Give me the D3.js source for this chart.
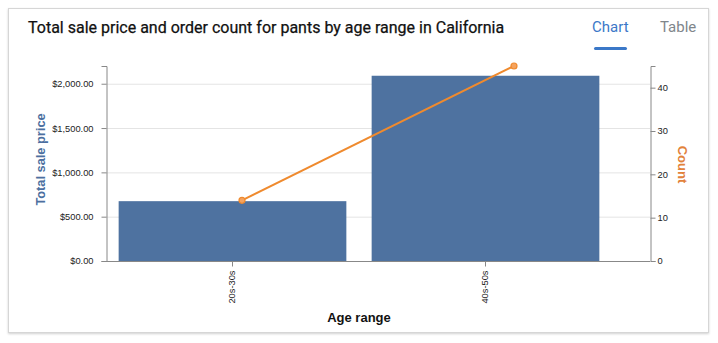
<!DOCTYPE html>
<html><head><meta charset="utf-8">
<script src="https://cdn.jsdelivr.net/npm/d3@7"></script>
<style>
html,body{margin:0;padding:0;background:#fff;}
svg{display:block;font-family:Roboto,"Helvetica Neue",Arial,sans-serif;}
</style></head>
<body>
<svg id="c" width="718" height="343"></svg>
<script>
const categories = ["20s-30s", "40s-50s"];
const salePrice = [675, 2090];
const orderCount = [14, 45];
const priceTicks = [0, 500, 1000, 1500, 2000];
const countTicks = [0, 10, 20, 30, 40];

const svg = d3.select("#c");
const defs = svg.append("defs");
const f = defs.append("filter").attr("id","sh").attr("x","-5%").attr("y","-5%").attr("width","110%").attr("height","110%");
f.append("feDropShadow").attr("dx",0).attr("dy",1).attr("stdDeviation",1.2).attr("flood-color","#000").attr("flood-opacity",0.18);

svg.append("rect").attr("x",8.5).attr("y",8.5).attr("width",700).attr("height",324)
  .attr("fill","#fff").attr("stroke","#d6d6d6").attr("filter","url(#sh)");

svg.append("text").attr("x",28).attr("y",33).attr("font-size",16).attr("fill","#111")
  .attr("stroke","#111").attr("stroke-width",0.25)
  .text("Total sale price and order count for pants by age range in California");
svg.append("text").attr("x",592).attr("y",32).attr("font-size",15).attr("fill","#3b78c8").text("Chart");
svg.append("text").attr("x",660).attr("y",32).attr("font-size",15).attr("fill","#80868b").text("Table");
svg.append("rect").attr("x",594).attr("y",47).attr("width",33).attr("height",3).attr("rx",1.5).attr("fill","#3b78c8");

const L = 106, R = 650, T = 66, B = 261, XR = 612;
const sans = '"Liberation Sans",Arial,Helvetica,sans-serif';
const x = d3.scaleBand().domain(categories).range([L, XR]).paddingInner(0.1).paddingOuter(0.05);
const xLine = d3.scaleBand().domain(categories).range([L, R]).padding(0);
const yL = d3.scaleLinear().domain([0, 2200]).range([B, T]);
const yR = d3.scaleLinear().domain([0, 45]).range([B, T]);

const g = svg.append("g");
g.selectAll("line.grid").data(priceTicks).join("line")
  .attr("x1",L).attr("x2",R).attr("y1",d=>yL(d)+0.5).attr("y2",d=>yL(d)+0.5)
  .attr("stroke","#e4e4e4").attr("stroke-width",1);

g.selectAll("rect.bar").data(categories).join("rect")
  .attr("x",d=>x(d)).attr("width",x.bandwidth())
  .attr("y",(d,i)=>yL(salePrice[i])).attr("height",(d,i)=>B-yL(salePrice[i]))
  .attr("fill","#4e72a0");

const axL = svg.append("g").attr("transform",`translate(${L+0.5},0)`)
  .call(d3.axisLeft(yL).tickValues(priceTicks).tickFormat(d=>"$"+d3.format(",.2f")(d)).tickSize(5).tickPadding(8));
const axR = svg.append("g").attr("transform",`translate(${R+0.5},0)`)
  .call(d3.axisRight(yR).tickValues(countTicks).tickSize(5).tickPadding(2));
const axB = svg.append("g").attr("transform",`translate(0,${B+0.5})`)
  .call(d3.axisBottom(x).tickSize(5).tickPadding(3));
axB.select("path.domain").attr("d",`M${L},0H${R}`);
[axL,axR,axB].forEach(a=>{
  a.selectAll("path.domain").attr("stroke","#888");
  a.selectAll(".tick line").attr("stroke","#888");
  a.selectAll(".tick text").attr("font-size",9.3).attr("fill","#222").attr("font-family",sans);
});
axB.selectAll(".tick text").attr("transform","rotate(-90)").attr("text-anchor","end")
  .attr("x",-9).attr("y",0).attr("dy","0.32em");

const pts = categories.map((c,i)=>[xLine(c)+xLine.bandwidth()/2, yR(orderCount[i])]);
svg.append("path").attr("d",d3.line()(pts)).attr("fill","none").attr("stroke","#ef8a2e").attr("stroke-width",2);
svg.selectAll("circle.pt").data(pts).join("circle").attr("cx",d=>d[0]).attr("cy",d=>d[1]).attr("r",3)
  .attr("fill","#f5a35f").attr("stroke","#ef8a2e").attr("stroke-width",1.2);

svg.append("text").attr("transform",`translate(44.5,${(T+B)/2-4}) rotate(-90)`).attr("text-anchor","middle")
  .attr("font-family",sans).attr("font-size",12.8).attr("font-weight","bold").attr("fill","#4c6fa0").text("Total sale price");
svg.append("text").attr("transform",`translate(678,${(T+B)/2+1}) rotate(90)`).attr("text-anchor","middle")
  .attr("font-family",sans).attr("font-size",13).attr("font-weight","bold").attr("fill","#e2823a").text("Count");
svg.append("text").attr("x",(L+XR)/2).attr("y",322).attr("text-anchor","middle")
  .attr("font-family",sans).attr("font-size",13).attr("font-weight","bold").attr("fill","#111").text("Age range");
</script>
</body></html>
